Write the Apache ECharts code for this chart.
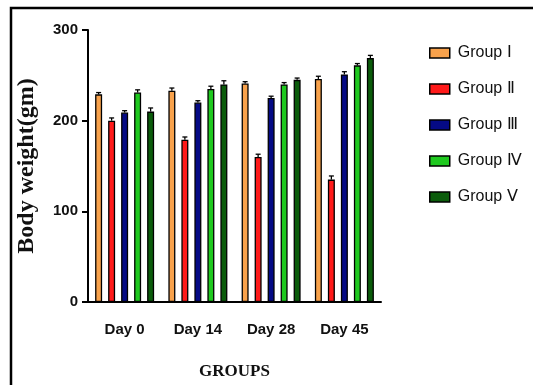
<!DOCTYPE html>
<html>
<head>
<meta charset="utf-8">
<script src="https://cdn.jsdelivr.net/npm/echarts@6/dist/echarts.min.js"></script>
<style>
  html, body { margin: 0; padding: 0; background: #fff; }
  #chart { width: 533px; height: 385px; }
</style>
</head>
<body>
<div id="chart"></div>
<script>
// Body weight per group across the study days
const categories = ['Day 0', 'Day 14', 'Day 28', 'Day 45'];
const groupNames = ['Group Ⅰ', 'Group Ⅱ', 'Group Ⅲ', 'Group Ⅳ', 'Group Ⅴ'];
const groupI   = [229, 233, 241, 246];
const groupII  = [200, 179, 160, 135];
const groupIII = [209, 220, 225, 251];
const groupIV  = [231, 235, 240, 261];
const groupV   = [210, 240, 245, 269];
// standard error of each mean
const errI   = [2, 3, 2, 3];
const errII  = [3, 3, 3, 4];
const errIII = [2, 2, 2, 3];
const errIV  = [3, 3, 2, 2];
const errV   = [4, 4, 2, 3];
const yTicks = [0, 100, 200, 300];

const values = [groupI, groupII, groupIII, groupIV, groupV];
const errors = [errI, errII, errIII, errIV, errV];
const colors = ['#F8A24C', '#FF1A1A', '#050A85', '#1FC91F', '#0B5C0B'];

const BAR_W = 7;
const BAR_GAP = 6;
const sans = '"Liberation Sans", Arial, sans-serif';
const serif = '"Liberation Serif", "Times New Roman", serif';

const chart = echarts.init(document.getElementById('chart'), null, { renderer: 'canvas' });

const barSeries = values.map((data, i) => ({
  name: groupNames[i],
  type: 'bar',
  data: data,
  barWidth: BAR_W,
  barGap: (BAR_GAP / BAR_W * 100) + '%',
  itemStyle: { color: colors[i], borderColor: '#000', borderWidth: 1.3 },
  z: 2
}));

const errSeries = values.map((data, i) => ({
  type: 'custom',
  name: groupNames[i] + ' SEM',
  data: data.map((v, k) => [k, v, errors[i][k]]),
  z: 3,
  silent: true,
  renderItem: function (params, api) {
    const k = api.value(0);
    const v = api.value(1);
    const e = api.value(2);
    const shift = (i - (values.length - 1) / 2) * (BAR_W + BAR_GAP);
    const top = api.coord([k, v + e]);
    const base = api.coord([k, v]);
    const x = top[0] + shift;
    const style = { stroke: '#000', lineWidth: 1.3 };
    return {
      type: 'group',
      children: [
        { type: 'line', shape: { x1: x, y1: base[1], x2: x, y2: top[1] }, style: style },
        { type: 'line', shape: { x1: x - 2.5, y1: top[1], x2: x + 2.5, y2: top[1] }, style: style }
      ]
    };
  }
}));

chart.setOption({
  animation: false,
  backgroundColor: '#fff',
  graphic: [{
    type: 'rect',
    shape: { x: 11, y: 8, width: 700, height: 600 },
    style: { fill: 'none', stroke: '#000', lineWidth: 2.5 },
    silent: true
  }],
  grid: { left: 88, right: 152, top: 30, bottom: 79 },
  legend: {
    orient: 'vertical',
    left: 424,
    top: 40,
    itemWidth: 20,
    itemHeight: 10,
    itemGap: 20,
    icon: 'rect',
    data: groupNames,
    itemStyle: { borderColor: '#000', borderWidth: 1.5 },
    formatter: function (name) {
      const parts = name.split(' ');
      return '{w|' + parts[0] + ' }{n|' + parts[1] + '}';
    },
    textStyle: {
      color: '#111',
      padding: [0, 0, 0, 3],
      rich: {
        w: { fontFamily: sans, fontSize: 16, color: '#111' },
        n: { fontFamily: serif, fontSize: 16, color: '#111' }
      }
    }
  },
  xAxis: {
    type: 'category',
    data: categories,
    name: 'GROUPS',
    nameLocation: 'middle',
    nameGap: 61,
    nameTextStyle: { fontFamily: serif, fontWeight: 'bold', fontSize: 17, color: '#111' },
    axisLine: { lineStyle: { color: '#000', width: 2 } },
    axisTick: { alignWithLabel: true, length: 9, lineStyle: { color: '#000', width: 2 } },
    axisLabel: { interval: 0, fontFamily: sans, fontWeight: 'bold', fontSize: 15, color: '#111', margin: 20 }
  },
  yAxis: {
    type: 'value',
    min: yTicks[0],
    max: yTicks[yTicks.length - 1],
    interval: yTicks[1] - yTicks[0],
    name: 'Body weight(gm)',
    nameLocation: 'middle',
    nameRotate: 90,
    nameGap: 49,
    nameTextStyle: { fontFamily: serif, fontWeight: 'bold', fontSize: 24, color: '#111' },
    splitLine: { show: false },
    axisLine: { show: true, lineStyle: { color: '#000', width: 2 } },
    axisTick: { show: true, length: 6, lineStyle: { color: '#000', width: 2 } },
    axisLabel: { fontFamily: sans, fontWeight: 'bold', fontSize: 15, color: '#111', margin: 10 }
  },
  series: barSeries.concat(errSeries)
});
</script>
</body>
</html>
